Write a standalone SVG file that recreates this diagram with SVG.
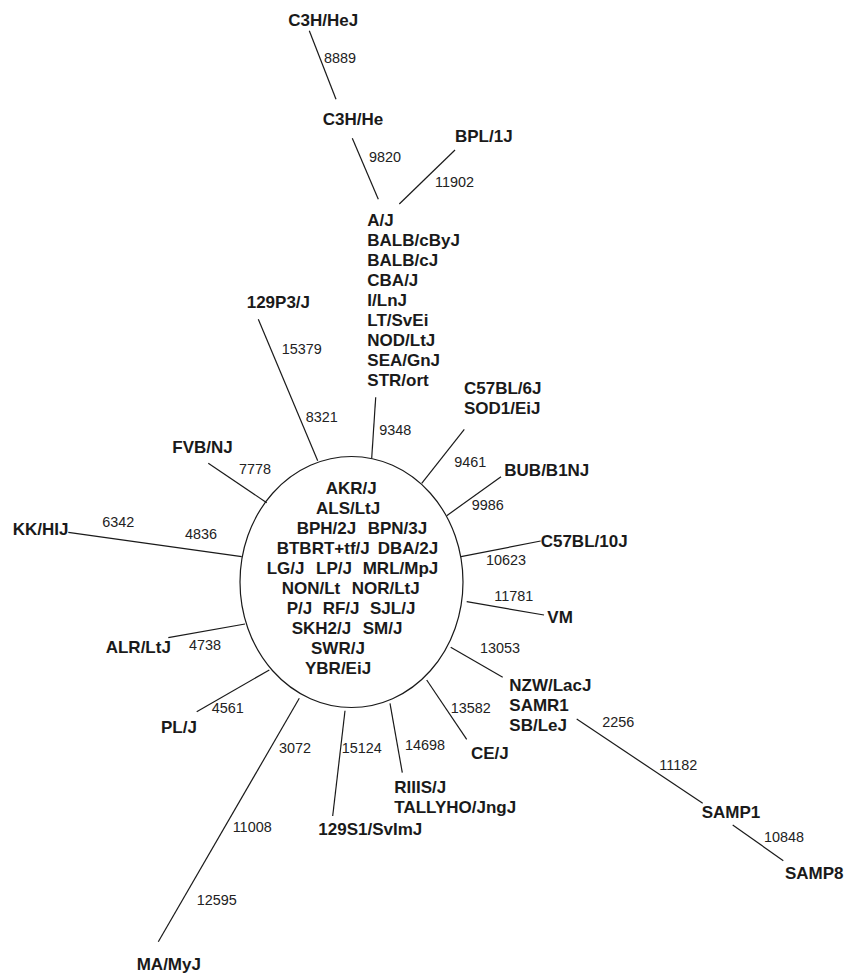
<svg xmlns="http://www.w3.org/2000/svg" width="846" height="976" viewBox="0 0 846 976">
<style>
.lbl{font-family:"Liberation Sans",Arial,sans-serif;font-weight:bold;font-size:17px;fill:#1a1a1a}
.num{font-family:"Liberation Sans",Arial,sans-serif;font-size:14.4px;fill:#222}
.edge{stroke:#1a1a1a;stroke-width:1.2;fill:none}
</style>
<rect width="846" height="976" fill="#fff"/>
<g id="connectors">
<line class="edge" x1="309.3" y1="30.7" x2="336" y2="99.3"/>
<line class="edge" x1="352.3" y1="138.3" x2="378.3" y2="199.3"/>
<line class="edge" x1="455" y1="150" x2="399.3" y2="204"/>
<line class="edge" x1="375.7" y1="397.3" x2="371.7" y2="458.3"/>
<line class="edge" x1="258.3" y1="319.3" x2="317.7" y2="460.7"/>
<line class="edge" x1="208.3" y1="463.3" x2="266.7" y2="502.7"/>
<line class="edge" x1="68.3" y1="532.3" x2="241.7" y2="556.7"/>
<line class="edge" x1="168.3" y1="637.7" x2="245" y2="624"/>
<line class="edge" x1="196.7" y1="711.7" x2="269.3" y2="670"/>
<line class="edge" x1="299.3" y1="698.3" x2="158.3" y2="941.7"/>
<line class="edge" x1="345" y1="710.7" x2="332.7" y2="816"/>
<line class="edge" x1="390" y1="703.3" x2="402.3" y2="772.7"/>
<line class="edge" x1="426.7" y1="680" x2="466.7" y2="739.3"/>
<line class="edge" x1="450.7" y1="647.3" x2="502.7" y2="677.3"/>
<line class="edge" x1="576.7" y1="719" x2="702.7" y2="803.3"/>
<line class="edge" x1="732.7" y1="825" x2="783.3" y2="860.7"/>
<line class="edge" x1="464.3" y1="429.3" x2="421.7" y2="483.3"/>
<line class="edge" x1="501" y1="476.7" x2="446.7" y2="515.7"/>
<line class="edge" x1="540.7" y1="541" x2="461" y2="556.7"/>
<line class="edge" x1="466.7" y1="601.7" x2="544" y2="615"/>
<text class="num" x="324" y="63">8889</text>
<text class="num" x="369" y="162">9820</text>
<text class="num" x="435" y="187">11902</text>
<text class="num" x="379.3" y="435">9348</text>
<text class="num" x="281.7" y="354">15379</text>
<text class="num" x="305.7" y="422.3">8321</text>
<text class="num" x="239" y="474">7778</text>
<text class="num" x="102.3" y="526.7">6342</text>
<text class="num" x="185" y="539">4836</text>
<text class="num" x="189" y="650">4738</text>
<text class="num" x="211.7" y="713.3">4561</text>
<text class="num" x="279" y="753.3">3072</text>
<text class="num" x="232.7" y="831.7">11008</text>
<text class="num" x="196.7" y="905">12595</text>
<text class="num" x="341.7" y="753.3">15124</text>
<text class="num" x="405" y="750">14698</text>
<text class="num" x="450.7" y="713.3">13582</text>
<text class="num" x="480" y="653.3">13053</text>
<text class="num" x="602.3" y="726.7">2256</text>
<text class="num" x="659.3" y="770">11182</text>
<text class="num" x="764" y="841.7">10848</text>
<text class="num" x="454.3" y="467.3">9461</text>
<text class="num" x="471.7" y="510">9986</text>
<text class="num" x="486" y="565">10623</text>
<text class="num" x="494.3" y="600.7">11781</text>
</g>
<g id="core">
<ellipse cx="351.5" cy="582" rx="111.5" ry="125.5" fill="none" stroke="#1a1a1a" stroke-width="1.2"/>
<text class="lbl" y="494" x="325.7">AKR/J</text>
<text class="lbl" y="514" x="316">ALS/LtJ</text>
<text class="lbl" y="534"><tspan x="296.7">BPH/2J</tspan><tspan x="367.7">BPN/3J</tspan></text>
<text class="lbl" y="554"><tspan x="276.7">BTBRT+tf/J</tspan><tspan x="377.7">DBA/2J</tspan></text>
<text class="lbl" y="574"><tspan x="266.7">LG/J</tspan><tspan x="316">LP/J</tspan><tspan x="362.7">MRL/MpJ</tspan></text>
<text class="lbl" y="594"><tspan x="281.7">NON/Lt</tspan><tspan x="351.7">NOR/LtJ</tspan></text>
<text class="lbl" y="614"><tspan x="286.7">P/J</tspan><tspan x="322.7">RF/J</tspan><tspan x="370">SJL/J</tspan></text>
<text class="lbl" y="634"><tspan x="291.7">SKH2/J</tspan><tspan x="362.7">SM/J</tspan></text>
<text class="lbl" y="654" x="311">SWR/J</text>
<text class="lbl" y="674" x="305">YBR/EiJ</text>
</g>
<g id="n-c3hhej"><text class="lbl" x="288.3" y="26">C3H/HeJ</text></g>
<g id="n-c3hhe"><text class="lbl" x="322.7" y="125">C3H/He</text></g>
<g id="n-bpl1j"><text class="lbl" x="455" y="142">BPL/1J</text></g>
<g id="n-aj-group">
<text class="lbl" x="367.3" y="226">A/J</text>
<text class="lbl" x="367.3" y="246">BALB/cByJ</text>
<text class="lbl" x="367.3" y="266">BALB/cJ</text>
<text class="lbl" x="367.3" y="286">CBA/J</text>
<text class="lbl" x="367.3" y="306">I/LnJ</text>
<text class="lbl" x="367.3" y="326">LT/SvEi</text>
<text class="lbl" x="367.3" y="346">NOD/LtJ</text>
<text class="lbl" x="367.3" y="366">SEA/GnJ</text>
<text class="lbl" x="367.3" y="386">STR/ort</text>
</g>
<g id="n-129p3j"><text class="lbl" x="246.7" y="308.3">129P3/J</text></g>
<g id="n-fvbnj"><text class="lbl" x="172.3" y="453.3">FVB/NJ</text></g>
<g id="n-kkhij"><text class="lbl" x="12.7" y="535">KK/HIJ</text></g>
<g id="n-alrltj"><text class="lbl" x="105.7" y="652.7">ALR/LtJ</text></g>
<g id="n-plj"><text class="lbl" x="161" y="733.3">PL/J</text></g>
<g id="n-mamyj"><text class="lbl" x="136.7" y="970">MA/MyJ</text></g>
<g id="n-129s1"><text class="lbl" x="318.3" y="835">129S1/SvImJ</text></g>
<g id="n-riiis">
<text class="lbl" x="394.3" y="793.3">RIIIS/J</text>
<text class="lbl" x="394.3" y="813.3">TALLYHO/JngJ</text>
</g>
<g id="n-cej"><text class="lbl" x="471" y="759">CE/J</text></g>
<g id="n-nzw">
<text class="lbl" x="509.3" y="690.7">NZW/LacJ</text>
<text class="lbl" x="509.3" y="710.7">SAMR1</text>
<text class="lbl" x="509.3" y="730.7">SB/LeJ</text>
</g>
<g id="n-samp1"><text class="lbl" x="701.7" y="818.3">SAMP1</text></g>
<g id="n-samp8"><text class="lbl" x="785" y="879.3">SAMP8</text></g>
<g id="n-c57bl6j">
<text class="lbl" x="464" y="394">C57BL/6J</text>
<text class="lbl" x="464" y="414">SOD1/EiJ</text>
</g>
<g id="n-bubb1nj"><text class="lbl" x="504.3" y="476">BUB/B1NJ</text></g>
<g id="n-c57bl10j"><text class="lbl" x="540.7" y="546.7">C57BL/10J</text></g>
<g id="n-vm"><text class="lbl" x="547.3" y="623.3">VM</text></g>
</svg>
